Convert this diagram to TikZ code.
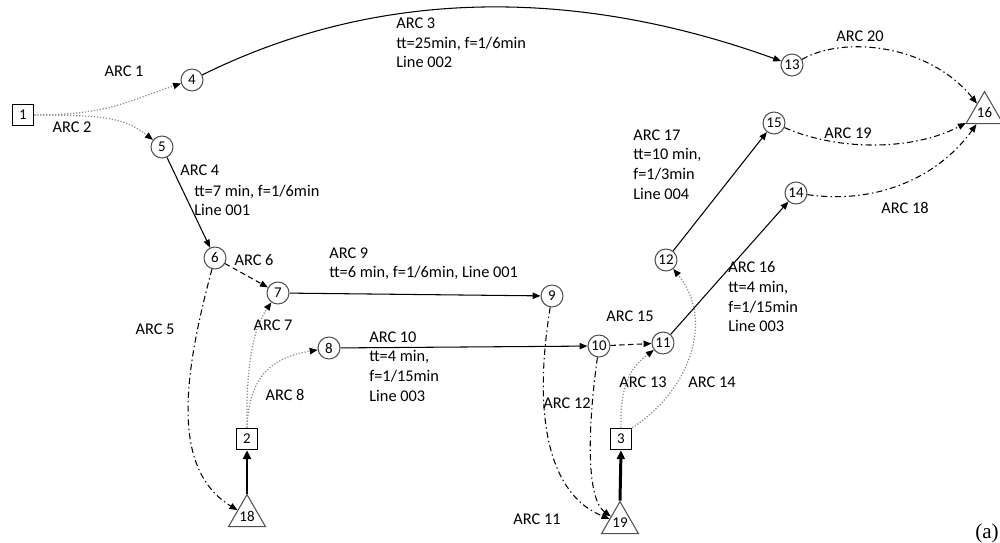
\documentclass[tikz,border=0pt]{standalone}
\usepackage{fontspec}
\setmainfont{Carlito}
\newfontfamily\figfont{Liberation Serif}
\usetikzlibrary{shapes.geometric, arrows.meta}
\definecolor{ringgray}{RGB}{80, 80, 80}
\definecolor{walkgray}{RGB}{140, 140, 140}
\newcommand{\arcfont}{\fontsize{9.3}{11.2}\selectfont}
\newcommand{\numfont}{\fontsize{8.5}{10}\selectfont}

\begin{document}
\begin{tikzpicture}[
  x=0.02cm, y=-0.02cm,
  station/.style={circle, draw=ringgray, line width=0.6pt, minimum size=0.44cm,
                  inner sep=0pt, font=\numfont},
  zone/.style={rectangle, draw=black, line width=0.6pt, minimum size=0.43cm,
               inner sep=0pt, font=\numfont},
  sink/.style={regular polygon, regular polygon sides=3, draw=ringgray, line width=0.6pt,
               minimum size=0.67cm, inner sep=0pt, font=\numfont},
  lbl/.style={font=\arcfont, inner sep=0pt},
  block/.style={font=\arcfont, inner sep=0pt, align=left, anchor=north west},
  line/.style={-{Triangle[length=4.5pt,width=3.6pt]}, line width=0.6pt},
  walk/.style={-{Triangle[length=4.5pt,width=3.6pt,color=black]}, walkgray, line width=0.7pt, densely dotted},
  transfer/.style={line, dash pattern=on 3pt off 2pt},
  egress/.style={line, dash pattern=on 3.5pt off 1.8pt on 0.8pt off 1.8pt},
  access/.style={-{Triangle[length=5pt,width=4.5pt]}, line width=1.7pt},
]
  \useasboundingbox (0,0) rectangle (1000,543);

  % zones, stops and sinks
  \node[zone] (n1) at (23,115) {1};
  \node[zone] (n2) at (247,439) {2};
  \node[zone] (n3) at (621,439) {3};
  \node[station] (n4) at (192,80) {4};
  \node[station] (n5) at (162,147) {5};
  \node[station] (n6) at (215,258) {6};
  \node[station] (n7) at (278,293) {7};
  \node[station] (n8) at (329,348) {8};
  \node[station] (n9) at (552,296) {9};
  \node[station] (n10) at (599,346) {10};
  \node[station] (n11) at (663,343) {11};
  \node[station] (n12) at (666,260) {12};
  \node[station] (n13) at (792,65) {13};
  \node[station] (n14) at (796,193) {14};
  \node[station] (n15) at (774,123) {15};
  \node[sink] (n16) at (984.5,113) {16};
  \node[sink] (n18) at (247,516) {18};
  \node[sink] (n19) at (620,523) {19};

  % arcs
  \draw[walk] (n1.east) .. controls (110,115) and (130,100) .. (n4);
  \draw[walk] (n1.east) .. controls (105,115) and (125,118) .. (n5);
  \draw[line] (n4) .. controls (390,-18) and (590,-8) .. (n13);
  \draw[line] (n5) -- (n6);
  \draw[egress] (n6) .. controls (182,380) and (172,470) .. (n18);
  \draw[transfer] (n6) -- (n7);
  \draw[walk] (n2.north) .. controls (246,370) and (252,330) .. (n7);
  \draw[walk] (n2.north) .. controls (249,380) and (268,358) .. (n8);
  \draw[line] (n7) -- (n9);
  \draw[line] (n8) -- (n10);
  \draw[egress] (n9) .. controls (532,420) and (550,495) .. (n19);
  \draw[egress] (n10) .. controls (586,440) and (588,500) .. (n19);
  \draw[walk] (n3.north) .. controls (620,385) and (630,368) .. (n11);
  \draw[walk] (n3.north east) .. controls (690,390) and (715,320) .. (n12);
  \draw[transfer] (n10) -- (n11);
  \draw[line] (n11) -- (n14);
  \draw[line] (n12) -- (n15);
  \draw[egress] (n14) .. controls (880,205) and (940,175) .. (n16);
  \draw[egress] (n15) .. controls (840,152) and (915,150) .. (n16);
  \draw[egress] (n13) .. controls (845,35) and (930,45) .. (n16);
  \draw[access] (n18.corner 1) -- (n2.south);
  \draw[access] (n19.corner 1) -- (n3.south);

  % labels
  \node[lbl] (l1) at (124,71) {ARC 1};
  \node[lbl] (l2) at (72,127) {ARC 2};
  \node[block] (l3) at (396,17.5) {ARC 3\\tt=25min, f=1/6min\\Line 002};
  \node[lbl, anchor=west] (l4) at (180,170) {ARC 4};
  \node[block] (l4b) at (194,184.5) {tt=7 min, f=1/6min\\Line 001};
  \node[lbl] (l5) at (155,329) {ARC 5};
  \node[lbl] (l6) at (254,260) {ARC 6};
  \node[lbl] (l7) at (273,325) {ARC 7};
  \node[lbl] (l8) at (285,395) {ARC 8};
  \node[block] (l9) at (329,247.3) {ARC 9\\tt=6 min, f=1/6min, Line 001};
  \node[block] (l10) at (369,331.3) {ARC 10\\tt=4 min,\\f=1/15min\\Line 003};
  \node[lbl] (l11) at (537,519) {ARC 11};
  \node[lbl] (l12) at (567,403) {ARC 12};
  \node[lbl] (l13) at (643,382) {ARC 13};
  \node[lbl] (l14) at (712,382) {ARC 14};
  \node[lbl] (l15) at (630,316) {ARC 15};
  \node[block] (l16) at (728,261.3) {ARC 16\\tt=4 min,\\f=1/15min\\Line 003};
  \node[block] (l17) at (633,129.3) {ARC 17\\tt=10 min,\\f=1/3min\\Line 004};
  \node[lbl] (l18) at (905,208) {ARC 18};
  \node[lbl] (l19) at (848,133) {ARC 19};
  \node[lbl] (l20) at (860,36) {ARC 20};
  \node[font=\figfont\fontsize{12}{14}\selectfont, inner sep=0pt] (sub) at (987,533) {(a)};
\end{tikzpicture}
\end{document}
